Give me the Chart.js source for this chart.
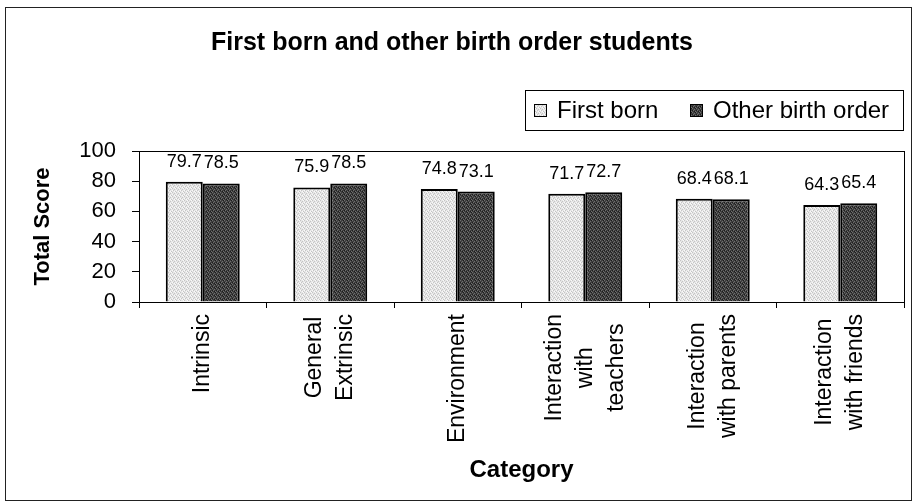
<!DOCTYPE html>
<html><head><meta charset="utf-8">
<script src="https://cdn.jsdelivr.net/npm/chart.js@4.4.1/dist/chart.umd.min.js"></script>
<style>html,body{margin:0;padding:0;background:#fff}</style>
</head><body>
<canvas id="c" width="914" height="502"></canvas>
<script>
// ---- data ----
const chartTitle = 'First born and other birth order students';
const categories = [['Intrinsic'], ['General', 'Extrinsic'], ['Environment'], ['Interaction', 'with', 'teachers'], ['Interaction', 'with parents'], ['Interaction', 'with friends']];
const seriesNames = ['First born', 'Other birth order'];
const firstBorn = [79.7, 75.9, 74.8, 71.7, 68.4, 64.3];
const otherOrder = [78.5, 78.5, 73.1, 72.7, 68.1, 65.4];
const yTickValues = [0, 20, 40, 60, 80, 100];
const yTitle = 'Total Score';
const xTitle = 'Category';

const FONT = "'Liberation Sans', Arial, sans-serif";

function makePattern(base, dotA, dotB) {
  const p = document.createElement('canvas');
  p.width = 4; p.height = 4;
  const g = p.getContext('2d');
  g.fillStyle = base; g.fillRect(0, 0, 4, 4);
  g.fillStyle = dotA;
  [[0,0],[2,1],[1,2],[3,3]].forEach(([x,y]) => g.fillRect(x, y, 1, 1));
  g.fillStyle = dotB;
  [[2,3],[0,2],[3,0]].forEach(([x,y]) => g.fillRect(x, y, 1, 1));
  return document.getElementById('c').getContext('2d').createPattern(p, 'repeat');
}
const lightFill = makePattern('#e6e6e6', '#c4c4c4', '#fafafa');
const darkFill = makePattern('#3e3e3e', '#6e6e6e', '#1c1c1c');

const frameAndLabels = {
  id: 'frameAndLabels',
  beforeDraw(chart) {
    const ctx = chart.ctx;
    ctx.save();
    ctx.fillStyle = '#fff';
    ctx.fillRect(0, 0, chart.width, chart.height);
    ctx.strokeStyle = '#222';
    ctx.lineWidth = 1;
    ctx.strokeRect(5.5, 7.5, 906, 493);
    ctx.restore();
  },
  afterDraw(chart) {
    const ctx = chart.ctx;
    const a = chart.chartArea;
    ctx.save();
    // plot box
    ctx.strokeStyle = '#000';
    ctx.lineWidth = 1;
    ctx.strokeRect(Math.round(a.left) + 0.5, Math.round(a.top) + 0.5, Math.round(a.right - a.left), Math.round(a.bottom - a.top));

    // category labels (rotated, lines centred)
    const xs = chart.scales.x;
    ctx.fillStyle = '#000';
    ctx.font = '23px ' + FONT;
    const lineGap = 31;
    categories.forEach((lines, i) => {
      const cx = xs.getPixelForTick(i);
      const W = Math.max(...lines.map(l => ctx.measureText(l).width));
      ctx.save();
      ctx.translate(cx, a.bottom + 12);
      ctx.rotate(-Math.PI / 2);
      ctx.textAlign = 'center';
      ctx.textBaseline = 'middle';
      lines.forEach((l, j) => {
        ctx.fillText(l, -W / 2, (j - (lines.length - 1) / 2) * lineGap);
      });
      ctx.restore();
    });

    // value labels
    ctx.font = '18px ' + FONT;
    ctx.textAlign = 'center';
    ctx.textBaseline = 'alphabetic';
    chart.data.datasets.forEach((ds, di) => {
      const meta = chart.getDatasetMeta(di);
      meta.data.forEach((el, k) => {
        ctx.fillText(ds.data[k].toFixed(1), el.x, el.y - 15);
      });
    });

    // legend
    const lx = 525, ly = 90, lw = 378, lh = 40;
    ctx.strokeStyle = '#000';
    ctx.strokeRect(lx + 0.5, ly + 0.5, lw, lh);
    ctx.font = '24px ' + FONT;
    ctx.textAlign = 'left';
    ctx.textBaseline = 'middle';
    const itemX = [534, 690];
    chart.data.datasets.forEach((ds, di) => {
      const x = itemX[di];
      ctx.fillStyle = ds.backgroundColor;
      ctx.fillRect(x, ly + 14, 13, 13);
      ctx.strokeStyle = '#000';
      ctx.lineWidth = 1;
      ctx.strokeRect(x + 0.5, ly + 14.5, 12, 12);
      ctx.fillStyle = '#000';
      ctx.fillText(ds.label, x + 23, ly + 21);
    });
    ctx.restore();
  }
};

new Chart(document.getElementById('c'), {
  type: 'bar',
  data: {
    labels: categories,
    datasets: [
      { label: seriesNames[0], data: firstBorn, backgroundColor: lightFill, borderColor: '#000', borderWidth: 2, borderSkipped: 'bottom' },
      { label: seriesNames[1], data: otherOrder, backgroundColor: darkFill, borderColor: '#000', borderWidth: 2, borderSkipped: 'bottom' }
    ]
  },
  options: {
    responsive: false,
    animation: false,
    devicePixelRatio: 1,
    layout: { padding: { left: 0, right: 10, top: 0, bottom: 0 } },
    datasets: { bar: { categoryPercentage: 0.58, barPercentage: 1.0 } },
    plugins: {
      legend: { display: false },
      tooltip: { enabled: false },
      title: {
        display: true,
        text: chartTitle,
        color: '#000',
        font: { family: FONT, size: 25, weight: 'bold', lineHeight: 1.2 },
        padding: { top: 28, bottom: 93 }
      }
    },
    scales: {
      x: {
        grid: { display: true, drawOnChartArea: false, color: '#000', tickLength: 6, offset: true },
        border: { display: true, color: '#000', width: 1 },
        ticks: { display: false },
        title: { display: true, text: xTitle, color: '#000', font: { family: FONT, size: 24, weight: 'bold', lineHeight: 1.2 }, padding: { top: 0, bottom: 17 } },
        afterFit(s) { s.height = 200; }
      },
      y: {
        min: 0, max: 100,
        afterBuildTicks(s) { s.ticks = yTickValues.map(v => ({ value: v })); },
        grid: { display: true, drawOnChartArea: false, color: '#000', tickLength: 7 },
        border: { display: true, color: '#000', width: 1 },
        ticks: { color: '#000', padding: 16, font: { family: FONT, size: 22 } },
        title: { display: true, text: yTitle, color: '#000', font: { family: FONT, size: 22, weight: 'bold', lineHeight: 1.2 }, padding: { top: 30, bottom: 0 } },
        afterFit(s) { s.width = 139; }
      }
    }
  },
  plugins: [frameAndLabels]
});
</script>
</body></html>
